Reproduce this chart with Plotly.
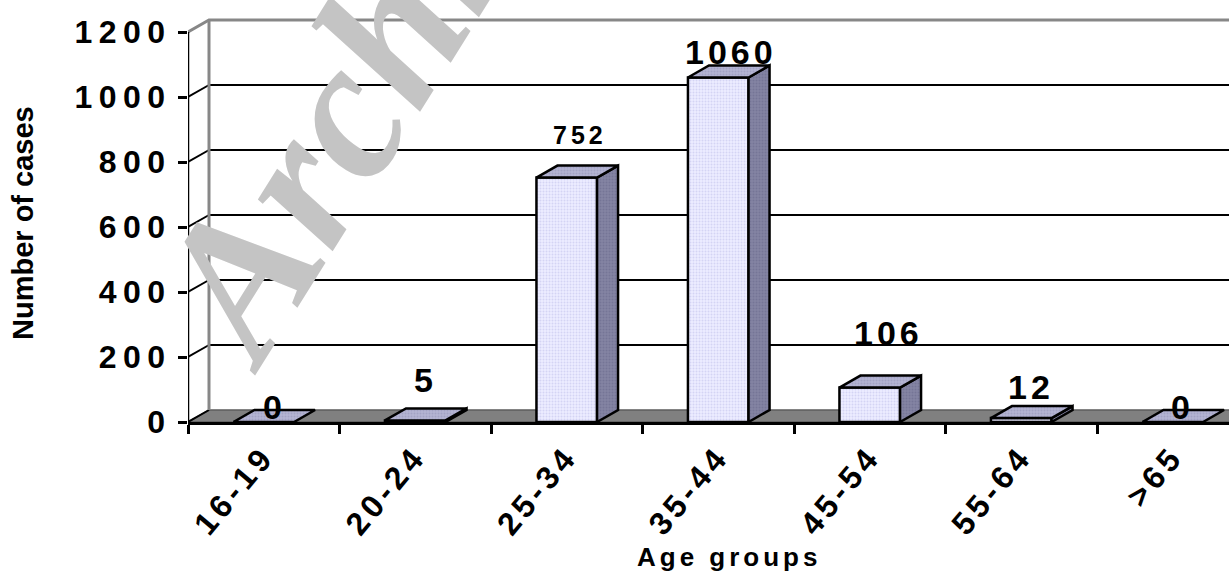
import plotly.graph_objects as go

# ---------------- data ----------------
categories = ["16-19", "20-24", "25-34", "35-44", "45-54", "55-64", ">65"]
cases = [0, 5, 752, 1060, 106, 12, 0]
y_ticks = [0, 200, 400, 600, 800, 1000, 1200]
x_title = "Age groups"
y_title = "Number of cases"
watermark = "Archive of SID"

# ---------------- styles / geometry ----------------
W, H = 1229, 574
ML, MR, MT, MB = 188, 0, 10, 152
PW, PH = W - ML - MR, H - MT - MB
CAT_PX = 151.5            # pixel width of one category
Y_SPAN_PX = 390           # pixels from 0 to top tick
X0 = -0.5
X1 = X0 + PW / CAT_PX
YMAX = y_ticks[-1] * PH / Y_SPAN_PX
DX = 21 * (X1 - X0) / PW  # depth offset (data units)
DY = 12 * YMAX / PH
BW = 0.40                 # bar width

FONT = "Liberation Sans, Arial, sans-serif"
label_size = [34, 34, 25, 34, 34, 34, 34]
label_yshift = [-18, 7, 15, -7, 22, -2, -18]
label_xshift = [0, 0, 3, 2, 8, -1, -1]


def paper(px, py):
    return (px - ML) / PW, (MT + PH - py) / PH


fig = go.Figure()

# floor
fig.add_trace(go.Scatter(
    x=[X0, X0 + DX, X1 + 1, X1 + 1, X0], y=[0, DY, DY, 0, 0],
    mode="lines", fill="toself", fillcolor="#808080",
    line=dict(color="#5c5c5c", width=1.5), hoverinfo="skip", xaxis="x", yaxis="y"))

# back-wall gridlines
gx, gy = [], []
for v in y_ticks[1:-1]:
    gx += [X0 + DX, X1 + 1, None]
    gy += [v + DY, v + DY, None]
fig.add_trace(go.Scatter(x=gx, y=gy, mode="lines", line=dict(color="black", width=2),
                         hoverinfo="skip"))
# connectors from axis ticks to the back wall
cx, cy = [], []
for v in y_ticks[:-1]:
    cx += [X0, X0 + DX, None]
    cy += [v, v + DY, None]
fig.add_trace(go.Scatter(x=cx, y=cy, mode="lines", line=dict(color="black", width=2),
                         hoverinfo="skip"))
# wall outline (gray): top edge, left edge, top connector
top = y_ticks[-1]
fig.add_trace(go.Scatter(
    x=[X0, X0 + DX, X1 + 1, None, X0 + DX, X0 + DX],
    y=[top, top + DY, top + DY, None, top + DY, DY],
    mode="lines", line=dict(color="#878787", width=3), hoverinfo="skip"))
# front value axis line
fig.add_trace(go.Scatter(x=[X0, X0], y=[0, top], mode="lines",
                         line=dict(color="black", width=2.5), hoverinfo="skip"))

# ---------------- bars (overlay axes so they sit above the walls) ----------------
sx, sy, tx, ty = [], [], [], []
for i, v in enumerate(cases):
    xl, xr = i - BW / 2, i + BW / 2
    if v > 0:
        sx += [xr, xr + DX, xr + DX, xr, xr, None]
        sy += [0, DY, v + DY, v, 0, None]
    tx += [xl, xl + DX, xr + DX, xr, xl, None]
    ty += [v, v + DY, v + DY, v, v, None]

fig.add_trace(go.Scatter(
    x=sx, y=sy, mode="lines", fill="toself", fillcolor="#7e7e9c",
    fillpattern=dict(shape=".", fgcolor="#66668a", bgcolor="#8484a2", size=3, solidity=0.35),
    line=dict(color="black", width=2.5), hoverinfo="skip", xaxis="x2", yaxis="y2"))
fig.add_trace(go.Scatter(
    x=tx, y=ty, mode="lines", fill="toself", fillcolor="#aeaecc",
    fillpattern=dict(shape=".", fgcolor="#9090b6", bgcolor="#b4b4d2", size=3, solidity=0.35),
    line=dict(color="black", width=2.5), hoverinfo="skip", xaxis="x2", yaxis="y2"))
fig.add_trace(go.Bar(
    x=list(range(len(categories))), y=cases, width=BW,
    marker=dict(color="#eaeaff", line=dict(color="black", width=2.5),
                pattern=dict(shape=".", fgcolor="#bcbcea", bgcolor="#ececff", size=3,
                             solidity=0.35)),
    hovertext=categories, xaxis="x2", yaxis="y2"))

# ---------------- annotations ----------------
ann = []
px, py = paper(527, -186)
ann.append(dict(x=px, y=py, xref="paper", yref="paper", text=watermark, textangle=-58,
                showarrow=False, xanchor="center", yanchor="middle",
                font=dict(family="Liberation Serif, Times New Roman, serif", size=198,
                          color="#c4c4c4", weight="bold", style="italic")))
for i, v in enumerate(cases):
    ann.append(dict(x=i + DX / 2, y=v + DY, xref="x", yref="y", text=str(v),
                    showarrow=False, yanchor="bottom", xanchor="center",
                    yshift=label_yshift[i], xshift=label_xshift[i],
                    font=dict(family=FONT, size=label_size[i], color="black", weight="bold")))
px, py = paper(23, 223)
ann.append(dict(x=px, y=py, xref="paper", yref="paper", text=y_title, textangle=-90,
                showarrow=False, xanchor="center", yanchor="middle",
                font=dict(family=FONT, size=29, color="black", weight="bold")))
px, py = paper(729, 557)
ann.append(dict(x=px, y=py, xref="paper", yref="paper", text=x_title,
                showarrow=False, xanchor="center", yanchor="middle",
                font=dict(family=FONT, size=26, color="black", weight="bold")))

fig.update_layout(
    width=W, height=H, margin=dict(l=ML, r=MR, t=MT, b=MB, autoexpand=False),
    paper_bgcolor="white", plot_bgcolor="white", showlegend=False,
    annotations=ann,
    xaxis=dict(range=[X0, X1], tickmode="array", tickvals=list(range(len(categories))),
               ticktext=categories, ticks="", tickangle=-50,
               tickfont=dict(family=FONT, size=32, color="black", weight="bold"),
               showgrid=False, zeroline=False, showline=True, linecolor="black",
               linewidth=2.5,
               minor=dict(tickmode="array",
                          tickvals=[X0 + k for k in range(len(categories))],
                          ticks="outside", ticklen=9, tickwidth=2.5, tickcolor="black",
                          showgrid=False)),
    yaxis=dict(range=[0, YMAX], tickmode="array", tickvals=y_ticks, ticks="outside",
               ticklen=9, tickwidth=2.5, tickcolor="black", ticklabelstandoff=0,
               tickfont=dict(family=FONT, size=32, color="black", weight="bold"),
               showgrid=False, zeroline=False, showline=False),
    xaxis2=dict(range=[X0, X1], overlaying="x", visible=False),
    yaxis2=dict(range=[0, YMAX], overlaying="y", visible=False),
)

post = """
var gd = document.getElementById('{plot_id}');
function sp(){
  gd.querySelectorAll('.xtick text').forEach(function(t){t.style.letterSpacing='4.5px';});
  gd.querySelectorAll('.ytick text').forEach(function(t){t.style.letterSpacing='6.5px';});
  gd.querySelectorAll('.annotation-text').forEach(function(t){
    var s = t.textContent;
    if (/^[0-9]+$/.test(s)) t.style.letterSpacing = '4px';
    else if (s === 'Age groups') t.style.letterSpacing = '4px';
  });
}
sp(); setTimeout(sp, 30);
if (gd.on) gd.on('plotly_afterplot', sp);
"""
fig.write_html("out.html", post_script=post)
